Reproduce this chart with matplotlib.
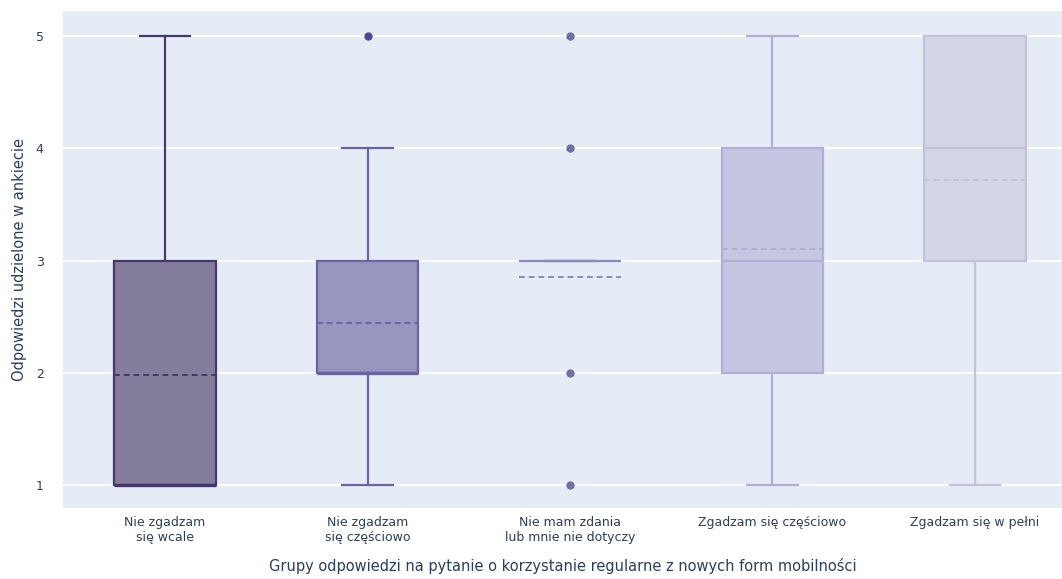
import matplotlib.pyplot as plt
import numpy as np

categories = ['Nie zgadzam\nsię wcale', 'Nie zgadzam\nsię częściowo', 'Nie mam zdania\nlub mnie nie dotyczy',
              'Zgadzam się częściowo', 'Zgadzam się w pełni']
q1 = [1, 2, 3, 2, 3]
med = [1, 2, 3, 3, 4]
q3 = [3, 3, 3, 4, 5]
whislo = [1, 1, 3, 1, 1]
whishi = [5, 4, 3, 5, 5]
means = [1.98, 2.44, 2.85, 3.10, 3.72]
fliers = [[], [5], [1, 2, 4, 5], [], []]

line_colors = ['#45396B', '#6A64A3', '#8C89C0', '#B1AFD6', '#C2C3D9']
fill_colors = ['#847E9C', '#9895BF', '#B9B8DA', '#C4C6E2', '#D3D6E7']
dot_colors = ['#45396B', '#4F4797', '#716FA8', '#B1AFD6', '#C2C3D9']

txt = '#2A3F5F'
fig = plt.figure(figsize=(10.62, 5.79), dpi=100)
ax = fig.add_axes([63/1062, 71/579, 1 - 63/1062, (508-11)/579])
ax.set_facecolor('#E5ECF6')

for i in range(len(categories)):
    st = dict(q1=q1[i], med=med[i], q3=q3[i], whislo=whislo[i], whishi=whishi[i],
              mean=means[i], fliers=fliers[i])
    lc = line_colors[i]
    has_box = q1[i] != q3[i]
    ax.bxp([st], positions=[i], widths=0.5, capwidths=[0.25], patch_artist=True,
           showmeans=True, meanline=True, manage_ticks=False,
           boxprops=dict(facecolor=fill_colors[i] if has_box else 'none',
                         edgecolor=lc if has_box else 'none', linewidth=1.6),
           medianprops=dict(color=lc, linewidth=1.6 if med[i] not in (q1[i], q3[i]) or not has_box else 2.4),
           meanprops=dict(color=lc, linewidth=1.4, linestyle=(0, (3, 2))),
           whiskerprops=dict(color=lc, linewidth=1.6),
           capprops=dict(color=lc, linewidth=1.6),
           flierprops=dict(marker='o', markersize=5, markerfacecolor=dot_colors[i],
                           markeredgecolor=dot_colors[i]))

ax.set_xlim(-0.504, 4.43)
ax.set_ylim(0.795, 5.223)
ax.set_yticks([1, 2, 3, 4, 5])
ax.set_xticks(range(len(categories)))
ax.set_xticklabels(categories, fontsize=9, color=txt, linespacing=1.2)
ax.tick_params(axis='y', labelsize=9, labelcolor=txt, length=0, pad=14)
ax.tick_params(axis='x', length=0, pad=6)
ax.grid(axis='y', color='white', linewidth=1.3)
ax.set_axisbelow(True)
for s in ax.spines.values():
    s.set_visible(False)
ax.set_ylabel('Odpowiedzi udzielone w ankiecie', fontsize=10.5, color=txt, labelpad=6)
ax.set_xlabel('Grupy odpowiedzi na pytanie o korzystanie regularne z nowych form mobilności',
              fontsize=10.5, color=txt, labelpad=10)

fig.savefig('out.png', dpi=100)
